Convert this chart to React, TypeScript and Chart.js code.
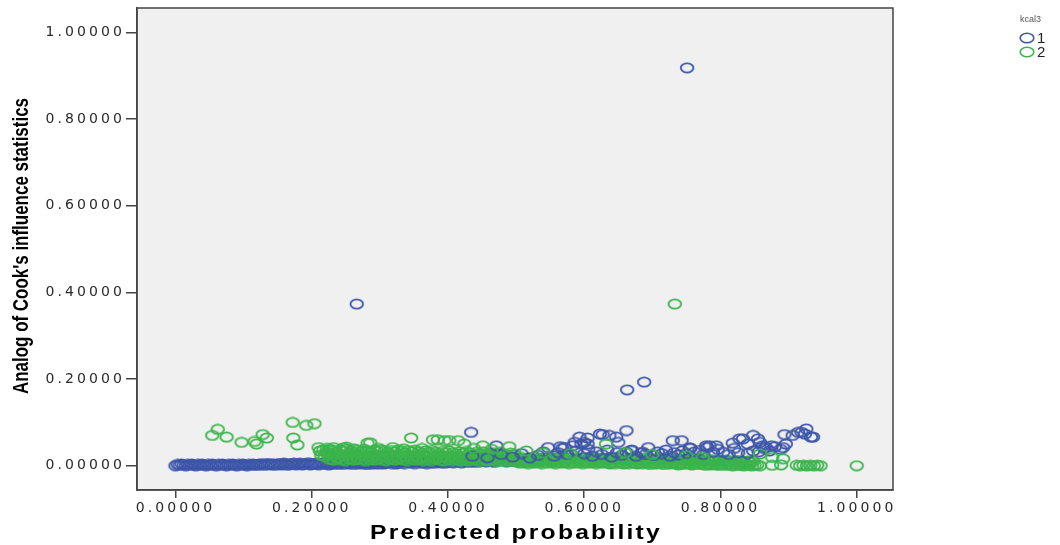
import React, { useEffect, useRef } from 'react';
import { Chart, registerables } from 'chart.js';
Chart.register(...registerables);

type P = [number, number];

const xTickValues = [0, 0.2, 0.4, 0.6, 0.8, 1.0];
const yTickValues = [0, 0.2, 0.4, 0.6, 0.8, 1.0];
const legendTitle = 'kcal3';
const seriesNames = ['1', '2'];
const xTitle = 'Predicted probability';
const yTitle = "Analog of Cook's influence statistics";

const blueOutliers: P[] = [[0.266, 0.373], [0.751, 0.918], [0.663, 0.175], [0.688, 0.193]];

const blueBand: P[] = [
  [0.000,0.000],[0.003,0.003],[0.006,0.001],[0.009,0.004],[0.012,0.002],[0.015,0.000],[0.018,0.003],[0.021,0.001],[0.024,0.004],[0.027,0.002],
  [0.030,0.000],[0.033,0.003],[0.036,0.001],[0.039,0.004],[0.042,0.002],[0.045,0.000],[0.048,0.003],[0.051,0.001],[0.054,0.004],[0.057,0.002],
  [0.060,0.000],[0.063,0.003],[0.066,0.001],[0.069,0.004],[0.072,0.002],[0.075,0.000],[0.078,0.003],[0.081,0.001],[0.084,0.004],[0.087,0.002],
  [0.090,0.000],[0.093,0.003],[0.096,0.001],[0.099,0.004],[0.102,0.002],[0.105,0.000],[0.108,0.003],[0.111,0.001],[0.114,0.004],[0.117,0.002],
  [0.120,0.001],[0.123,0.004],[0.126,0.002],[0.129,0.005],[0.132,0.001],[0.135,0.003],[0.138,0.005],[0.141,0.002],[0.144,0.004],[0.147,0.001],
  [0.150,0.003],[0.153,0.005],[0.156,0.002],[0.159,0.006],[0.162,0.003],[0.165,0.001],[0.168,0.005],[0.171,0.003],[0.174,0.006],[0.177,0.002],
  [0.180,0.004],[0.183,0.006],[0.186,0.002],[0.189,0.005],[0.192,0.003],[0.195,0.007],[0.198,0.002],[0.201,0.005],[0.204,0.003],[0.207,0.006],
  [0.210,0.002],[0.213,0.005],[0.216,0.007],[0.219,0.003],[0.222,0.006],[0.225,0.002],[0.228,0.005],[0.231,0.007],[0.234,0.003],[0.237,0.006],
  [0.240,0.004],[0.243,0.007],[0.246,0.003],[0.249,0.006],[0.252,0.008],[0.255,0.004],[0.258,0.006],[0.261,0.003],[0.264,0.008],[0.267,0.005],
  [0.270,0.007],[0.273,0.004],[0.276,0.008],[0.279,0.005],[0.282,0.003],[0.285,0.007],[0.288,0.005],[0.291,0.009],[0.294,0.004],[0.297,0.007],
  [0.300,0.005],[0.303,0.009],[0.306,0.004],[0.309,0.008],[0.312,0.006],[0.315,0.010],[0.318,0.005],[0.321,0.008],[0.324,0.004],[0.327,0.009],
  [0.330,0.006],[0.333,0.010],[0.336,0.005],[0.339,0.008],[0.342,0.011],[0.345,0.006],[0.348,0.009],[0.351,0.005],[0.354,0.010],[0.357,0.007],
  [0.360,0.011],[0.363,0.006],[0.366,0.009],[0.369,0.005],[0.372,0.010],[0.375,0.007],[0.378,0.012],[0.381,0.006],[0.384,0.009],[0.387,0.011],
  [0.390,0.007],[0.393,0.010],[0.396,0.006],[0.399,0.012],[0.402,0.008],[0.405,0.010],[0.408,0.007],[0.411,0.012],[0.414,0.008],[0.417,0.011],
  [0.420,0.007],[0.423,0.013],[0.426,0.009],[0.429,0.011],[0.432,0.008],[0.435,0.012],[0.438,0.009],[0.441,0.013],[0.444,0.008],[0.447,0.011],
  [0.452,0.011],[0.456,0.009],[0.462,0.012],[0.468,0.008],[0.474,0.011],[0.480,0.013],[0.486,0.009],[0.492,0.012],[0.498,0.010],[0.506,0.013],
  [0.514,0.011],[0.522,0.014],[0.532,0.012],[0.542,0.015],[0.554,0.013]
];

const blueMid: P[] = [
  [0.436,0.022],[0.458,0.018],[0.478,0.026],[0.495,0.020],[0.508,0.028],[0.520,0.018],[0.532,0.024],[0.540,0.032],[0.556,0.022],[0.562,0.030],
  [0.568,0.040],[0.575,0.026],[0.588,0.034],[0.600,0.028],[0.606,0.038],[0.612,0.022],[0.618,0.032],[0.626,0.026],[0.634,0.036],[0.640,0.020],
  [0.648,0.030],[0.655,0.024],[0.662,0.031],[0.670,0.036],[0.676,0.022],[0.684,0.030],[0.690,0.026],[0.702,0.024],[0.708,0.032],[0.714,0.028],
  [0.720,0.036],[0.726,0.022],[0.732,0.030],[0.738,0.025],[0.744,0.034],[0.750,0.028],[0.756,0.040],[0.762,0.032],[0.775,0.026],[0.780,0.042],
  [0.789,0.031],[0.796,0.038],[0.812,0.026],[0.820,0.040],[0.826,0.030],[0.840,0.028],[0.848,0.034],[0.856,0.032],[0.864,0.040],[0.872,0.034],
  [0.880,0.044],[0.888,0.038],[0.896,0.050]
];

const blueUpper: P[] = [
  [0.434,0.077],[0.471,0.046],[0.547,0.042],[0.565,0.044],[0.571,0.042],[0.583,0.046],[0.586,0.054],[0.593,0.066],[0.596,0.050],[0.600,0.054],
  [0.605,0.064],[0.605,0.050],[0.623,0.073],[0.627,0.072],[0.637,0.070],[0.647,0.066],[0.650,0.054],[0.662,0.081],[0.669,0.035],[0.686,0.031],
  [0.694,0.042],[0.730,0.058],[0.743,0.058],[0.755,0.041],[0.769,0.035],[0.779,0.046],[0.784,0.046],[0.794,0.046],[0.804,0.031],[0.818,0.052],
  [0.828,0.062],[0.833,0.062],[0.840,0.050],[0.848,0.070],[0.855,0.062],[0.858,0.054],[0.862,0.046],[0.867,0.042],[0.875,0.046],[0.892,0.042],
  [0.894,0.072],[0.906,0.070],[0.914,0.077],[0.919,0.077],[0.924,0.073],[0.926,0.085],[0.933,0.066],[0.936,0.066]
];

const greenOutliers: P[] = [[0.733, 0.373], [1.000, 0.000]];

const greenUpper: P[] = [
  [0.062,0.084],[0.054,0.070],[0.075,0.066],[0.097,0.054],[0.116,0.056],[0.128,0.072],[0.134,0.064],[0.119,0.050],[0.172,0.100],[0.192,0.093],
  [0.204,0.097],[0.173,0.064],[0.179,0.048]
];

const greenScatter: P[] = [
  [0.210,0.042],[0.222,0.040],[0.232,0.042],[0.246,0.041],[0.251,0.043],[0.262,0.039],[0.282,0.052],[0.286,0.053],[0.298,0.040],[0.319,0.042],
  [0.335,0.039],[0.346,0.064],[0.362,0.040],[0.378,0.060],[0.385,0.060],[0.395,0.058],[0.402,0.058],[0.415,0.058],[0.424,0.050],[0.438,0.040],
  [0.451,0.046],[0.464,0.038],[0.490,0.044],[0.515,0.034],[0.540,0.030],[0.580,0.028],[0.632,0.050],[0.660,0.030],[0.700,0.026],[0.750,0.023],
  [0.774,0.019],[0.858,0.027],[0.876,0.019],[0.892,0.016]
];

const greenBandA: P[] = [
  [0.212,0.034],[0.217,0.037],[0.222,0.032],[0.227,0.038],[0.232,0.035],[0.237,0.031],[0.242,0.036],[0.247,0.033],[0.252,0.038],[0.257,0.034],
  [0.262,0.031],[0.267,0.036],[0.272,0.033],[0.277,0.038],[0.282,0.034],[0.287,0.031],[0.292,0.036],[0.297,0.033],[0.302,0.037],[0.307,0.034],
  [0.312,0.030],[0.317,0.035],[0.322,0.032],[0.327,0.036],[0.332,0.033],[0.337,0.030],[0.342,0.035],[0.347,0.032],[0.352,0.036],[0.357,0.032],
  [0.362,0.029],[0.367,0.034],[0.372,0.031],[0.377,0.035],[0.382,0.031],[0.387,0.028],[0.392,0.033],[0.397,0.030],[0.402,0.034],[0.407,0.030],
  [0.412,0.027],[0.417,0.032],[0.422,0.029],[0.427,0.033],[0.432,0.029],[0.437,0.026],[0.442,0.031],[0.447,0.028],[0.452,0.032],[0.457,0.028],
  [0.462,0.025],[0.467,0.030],[0.472,0.027],[0.477,0.031],[0.482,0.027],[0.487,0.024],[0.492,0.029],[0.497,0.026],
  [0.214,0.024],[0.219,0.021],[0.224,0.026],[0.229,0.022],[0.234,0.025],[0.239,0.020],[0.244,0.024],[0.249,0.022],[0.254,0.026],[0.259,0.021],
  [0.264,0.025],[0.269,0.022],[0.274,0.026],[0.279,0.021],[0.284,0.024],[0.289,0.020],[0.294,0.025],[0.299,0.022],[0.304,0.025],[0.309,0.020],
  [0.314,0.024],[0.319,0.021],[0.324,0.025],[0.329,0.020],[0.334,0.023],[0.339,0.020],[0.344,0.024],[0.349,0.021],[0.354,0.024],[0.359,0.019],
  [0.364,0.023],[0.369,0.020],[0.374,0.024],[0.379,0.019],[0.384,0.022],[0.389,0.019],[0.394,0.023],[0.399,0.020],[0.404,0.022],[0.409,0.018],
  [0.414,0.022],[0.419,0.019],[0.424,0.022],[0.429,0.018],[0.434,0.021],[0.439,0.018],[0.444,0.021],[0.449,0.017],[0.454,0.021],[0.459,0.018],
  [0.464,0.020],[0.469,0.017],[0.474,0.020],[0.479,0.016],[0.484,0.019],[0.489,0.017],[0.494,0.019],[0.499,0.016],
  [0.226,0.015],[0.232,0.013],[0.238,0.016],[0.244,0.014],[0.250,0.012],[0.256,0.015],[0.262,0.013],[0.268,0.016],[0.274,0.014],[0.280,0.012],
  [0.286,0.015],[0.292,0.013],[0.298,0.016],[0.304,0.014],[0.310,0.012],[0.316,0.015],[0.322,0.013],[0.328,0.016],[0.334,0.014],[0.340,0.012],
  [0.346,0.015],[0.352,0.013],[0.358,0.015],[0.364,0.012],[0.370,0.014],[0.376,0.012],[0.382,0.015],[0.388,0.013],[0.394,0.011],[0.400,0.014],
  [0.406,0.012],[0.412,0.014],[0.418,0.011],[0.424,0.013],[0.430,0.011],[0.436,0.014],[0.442,0.012],[0.448,0.010],[0.454,0.013],[0.460,0.011],
  [0.466,0.013],[0.472,0.010],[0.478,0.012],[0.484,0.010],[0.490,0.012],[0.496,0.010]
];

const greenBandB: P[] = [
  [0.500,0.018],[0.504,0.015],[0.508,0.019],[0.512,0.016],[0.516,0.014],[0.520,0.018],[0.524,0.015],[0.528,0.019],[0.532,0.016],[0.536,0.014],
  [0.540,0.018],[0.544,0.015],[0.548,0.019],[0.552,0.016],[0.556,0.014],[0.560,0.018],[0.564,0.015],[0.568,0.019],[0.572,0.016],[0.576,0.014],
  [0.580,0.018],[0.584,0.015],[0.588,0.019],[0.592,0.016],[0.596,0.014],[0.600,0.018],[0.604,0.015],[0.608,0.019],[0.612,0.016],[0.616,0.013],
  [0.620,0.017],[0.624,0.015],[0.628,0.018],[0.632,0.015],[0.636,0.013],[0.640,0.017],[0.644,0.014],[0.648,0.018],[0.652,0.015],[0.656,0.013],
  [0.660,0.017],[0.664,0.014],[0.668,0.018],[0.672,0.015],[0.676,0.013],[0.680,0.017],[0.684,0.014],[0.688,0.017],[0.692,0.014],[0.696,0.012],
  [0.700,0.016],[0.704,0.014],[0.708,0.017],[0.712,0.014],[0.716,0.012],[0.720,0.016],[0.724,0.013],[0.728,0.016],[0.732,0.013],[0.736,0.011],
  [0.740,0.015],[0.744,0.013],[0.748,0.016],[0.752,0.013],[0.756,0.011],[0.760,0.015],[0.764,0.012],[0.768,0.015],[0.772,0.012],[0.776,0.010],
  [0.780,0.014],[0.784,0.012],[0.788,0.014],[0.792,0.011],[0.796,0.009],[0.800,0.013],[0.804,0.011],[0.808,0.013],[0.812,0.010],[0.816,0.008],
  [0.820,0.012],[0.824,0.010],[0.828,0.012],[0.832,0.009],[0.836,0.007],[0.840,0.011],[0.844,0.008],[0.848,0.010],
  [0.502,0.008],[0.506,0.006],[0.510,0.009],[0.514,0.007],[0.518,0.005],[0.522,0.008],[0.526,0.006],[0.530,0.009],[0.534,0.007],[0.538,0.005],
  [0.542,0.008],[0.546,0.006],[0.550,0.009],[0.554,0.007],[0.558,0.005],[0.562,0.008],[0.566,0.006],[0.570,0.009],[0.574,0.007],[0.578,0.005],
  [0.582,0.008],[0.586,0.006],[0.590,0.009],[0.594,0.007],[0.598,0.005],[0.602,0.008],[0.606,0.006],[0.610,0.009],[0.614,0.007],[0.618,0.005],
  [0.622,0.008],[0.626,0.006],[0.630,0.008],[0.634,0.006],[0.638,0.004],[0.642,0.007],[0.646,0.005],[0.650,0.008],[0.654,0.006],[0.658,0.004],
  [0.662,0.007],[0.666,0.005],[0.670,0.008],[0.674,0.006],[0.678,0.004],[0.682,0.007],[0.686,0.005],[0.690,0.007],[0.694,0.005],[0.698,0.003],
  [0.702,0.006],[0.706,0.004],[0.710,0.007],[0.714,0.005],[0.718,0.003],[0.722,0.006],[0.726,0.004],[0.730,0.006],[0.734,0.004],[0.738,0.002],
  [0.742,0.005],[0.746,0.003],[0.750,0.006],[0.754,0.004],[0.758,0.002],[0.762,0.005],[0.766,0.003],[0.770,0.005],[0.774,0.003],[0.778,0.001],
  [0.782,0.004],[0.786,0.002],[0.790,0.004],[0.794,0.002],[0.798,0.001],[0.802,0.003],[0.806,0.001],[0.810,0.003],[0.814,0.001],[0.818,0.000],
  [0.822,0.002],[0.826,0.001],[0.830,0.002],[0.834,0.000],[0.838,0.001],[0.842,0.002],[0.846,0.000],[0.850,0.001],[0.854,0.002],[0.858,0.000],
  [0.876,0.001],[0.889,0.002],
  [0.912,0.001],[0.917,0.000],[0.922,0.001],[0.927,0.000],[0.932,0.001],[0.937,0.000],[0.942,0.001],[0.947,0.000]
];

const BLUE = '#3d56a8';
const GREEN = '#3bb44b';

const toXY = (arr: P[]) => arr.map(([x, y]) => ({ x, y }));

function ring(color: string): HTMLCanvasElement {
  const c = document.createElement('canvas');
  c.width = 16;
  c.height = 12;
  const g = c.getContext('2d')!;
  g.strokeStyle = color;
  g.lineWidth = 1.8;
  g.beginPath();
  g.ellipse(8, 6, 6.3, 4.6, 0, 0, Math.PI * 2);
  g.stroke();
  return c;
}

const FONT = '"Liberation Sans", Arial, sans-serif';
const TICK_FONT = '"DejaVu Sans", "Liberation Sans", sans-serif';

export default function App() {
  const ref = useRef<HTMLCanvasElement>(null);
  useEffect(() => {
    if (!ref.current) return;
    const blueRing = ring(BLUE);
    const greenRing = ring(GREEN);

    const deco = {
      id: 'deco',
      beforeDraw(chart: any) {
        const { ctx, chartArea: a } = chart;
        ctx.save();
        ctx.fillStyle = '#ffffff';
        ctx.fillRect(0, 0, chart.width, chart.height);
        ctx.fillStyle = '#f0f0f0';
        ctx.fillRect(a.left, a.top, a.right - a.left, a.bottom - a.top);
        ctx.restore();
        ctx.letterSpacing = '3.1px';
      },
      afterDraw(chart: any) {
        const { ctx, chartArea: a } = chart;
        ctx.letterSpacing = '0px';
        ctx.save();
        ctx.strokeStyle = '#444';
        ctx.lineWidth = 1.5;
        ctx.strokeRect(a.left, a.top, a.right - a.left, a.bottom - a.top);
        ctx.restore();

        // y title
        ctx.save();
        ctx.font = 'bold 22px ' + FONT;
        const wy = ctx.measureText(yTitle).width;
        ctx.translate(28, 246);
        ctx.rotate(-Math.PI / 2);
        ctx.scale(296 / wy, 1);
        ctx.textAlign = 'center';
        ctx.textBaseline = 'alphabetic';
        ctx.fillStyle = '#000';
        ctx.fillText(yTitle, 0, 0);
        ctx.restore();

        // x title
        ctx.save();
        ctx.font = 'bold 20px ' + FONT;
        ctx.letterSpacing = '1.8px';
        const wx = ctx.measureText(xTitle).width;
        ctx.translate(516, 539);
        ctx.scale(292 / wx, 1);
        ctx.textAlign = 'center';
        ctx.textBaseline = 'alphabetic';
        ctx.fillStyle = '#000';
        ctx.fillText(xTitle, 0, 0);
        ctx.restore();
        ctx.letterSpacing = '0px';

        // legend
        ctx.save();
        ctx.font = '9px ' + FONT;
        ctx.fillStyle = '#555';
        ctx.textAlign = 'left';
        ctx.textBaseline = 'middle';
        ctx.fillText(legendTitle, 1020, 20);
        const cols = [BLUE, GREEN];
        const ys = [38, 52];
        seriesNames.forEach((name, i) => {
          ctx.strokeStyle = cols[i];
          ctx.lineWidth = 1.6;
          ctx.beginPath();
          ctx.ellipse(1027, ys[i], 6.8, 4.8, 0, 0, Math.PI * 2);
          ctx.stroke();
          ctx.font = '15px ' + FONT;
          ctx.fillStyle = '#222';
          ctx.fillText(name, 1037, ys[i] + 1);
        });
        ctx.restore();
      },
    };

    const pointOpts = (style: HTMLCanvasElement) => ({
      pointStyle: style as any,
      pointRadius: 5,
      pointHoverRadius: 5,
      showLine: false,
    });

    const chart = new Chart(ref.current, {
      type: 'scatter',
      data: {
        datasets: [
          { label: seriesNames[1], data: toXY([...greenUpper, ...greenScatter, ...greenOutliers]), order: 0, ...pointOpts(greenRing) },
          { label: seriesNames[0], data: toXY([...blueMid, ...blueUpper, ...blueOutliers]), order: 1, ...pointOpts(blueRing) },
          { label: seriesNames[1], data: toXY([...greenBandA, ...greenBandB]), order: 2, ...pointOpts(greenRing) },
          { label: seriesNames[0], data: toXY(blueBand), order: 3, ...pointOpts(blueRing) },
        ],
      },
      options: {
        responsive: false,
        animation: false,
        events: [],
        layout: { padding: { left: 0, top: 8, right: 167, bottom: 0 } },
        plugins: { legend: { display: false }, tooltip: { enabled: false } },
        scales: {
          x: {
            type: 'linear',
            min: -0.0565,
            max: 1.0533,
            afterBuildTicks: (s: any) => { s.ticks = xTickValues.map((v) => ({ value: v })); },
            afterFit: (s: any) => { s.height = 55; s.paddingLeft = 0; s.paddingRight = 0; },
            grid: { display: true, drawOnChartArea: false, drawTicks: true, tickLength: 8, color: '#444', lineWidth: 1.5 },
            border: { display: true, color: '#444', width: 1.5 },
            ticks: {
              padding: 2,
              color: '#2a2a2a',
              autoSkip: false,
              maxRotation: 0,
              font: { family: TICK_FONT, size: 14 },
              callback: (v: any) => Number(v).toFixed(5),
            },
          },
          y: {
            type: 'linear',
            min: -0.056,
            max: 1.056,
            afterBuildTicks: (s: any) => { s.ticks = yTickValues.map((v) => ({ value: v })); },
            afterFit: (s: any) => { s.width = 137; s.paddingTop = 0; s.paddingBottom = 0; },
            grid: { display: true, drawOnChartArea: false, drawTicks: true, tickLength: 11, color: '#444', lineWidth: 1.5 },
            border: { display: true, color: '#444', width: 1.5 },
            ticks: {
              padding: 1,
              color: '#2a2a2a',
              autoSkip: false,
              font: { family: TICK_FONT, size: 14 },
              callback: (v: any) => Number(v).toFixed(5),
            },
          },
        },
      },
      plugins: [deco],
    } as any);
    return () => chart.destroy();
  }, []);

  return (
    <div style={{ position: 'absolute', left: 0, top: 0, width: 1060, height: 545, background: '#fff' }}>
      <canvas ref={ref} width={1060} height={545} style={{ display: 'block', width: 1060, height: 545 }} />
    </div>
  );
}
